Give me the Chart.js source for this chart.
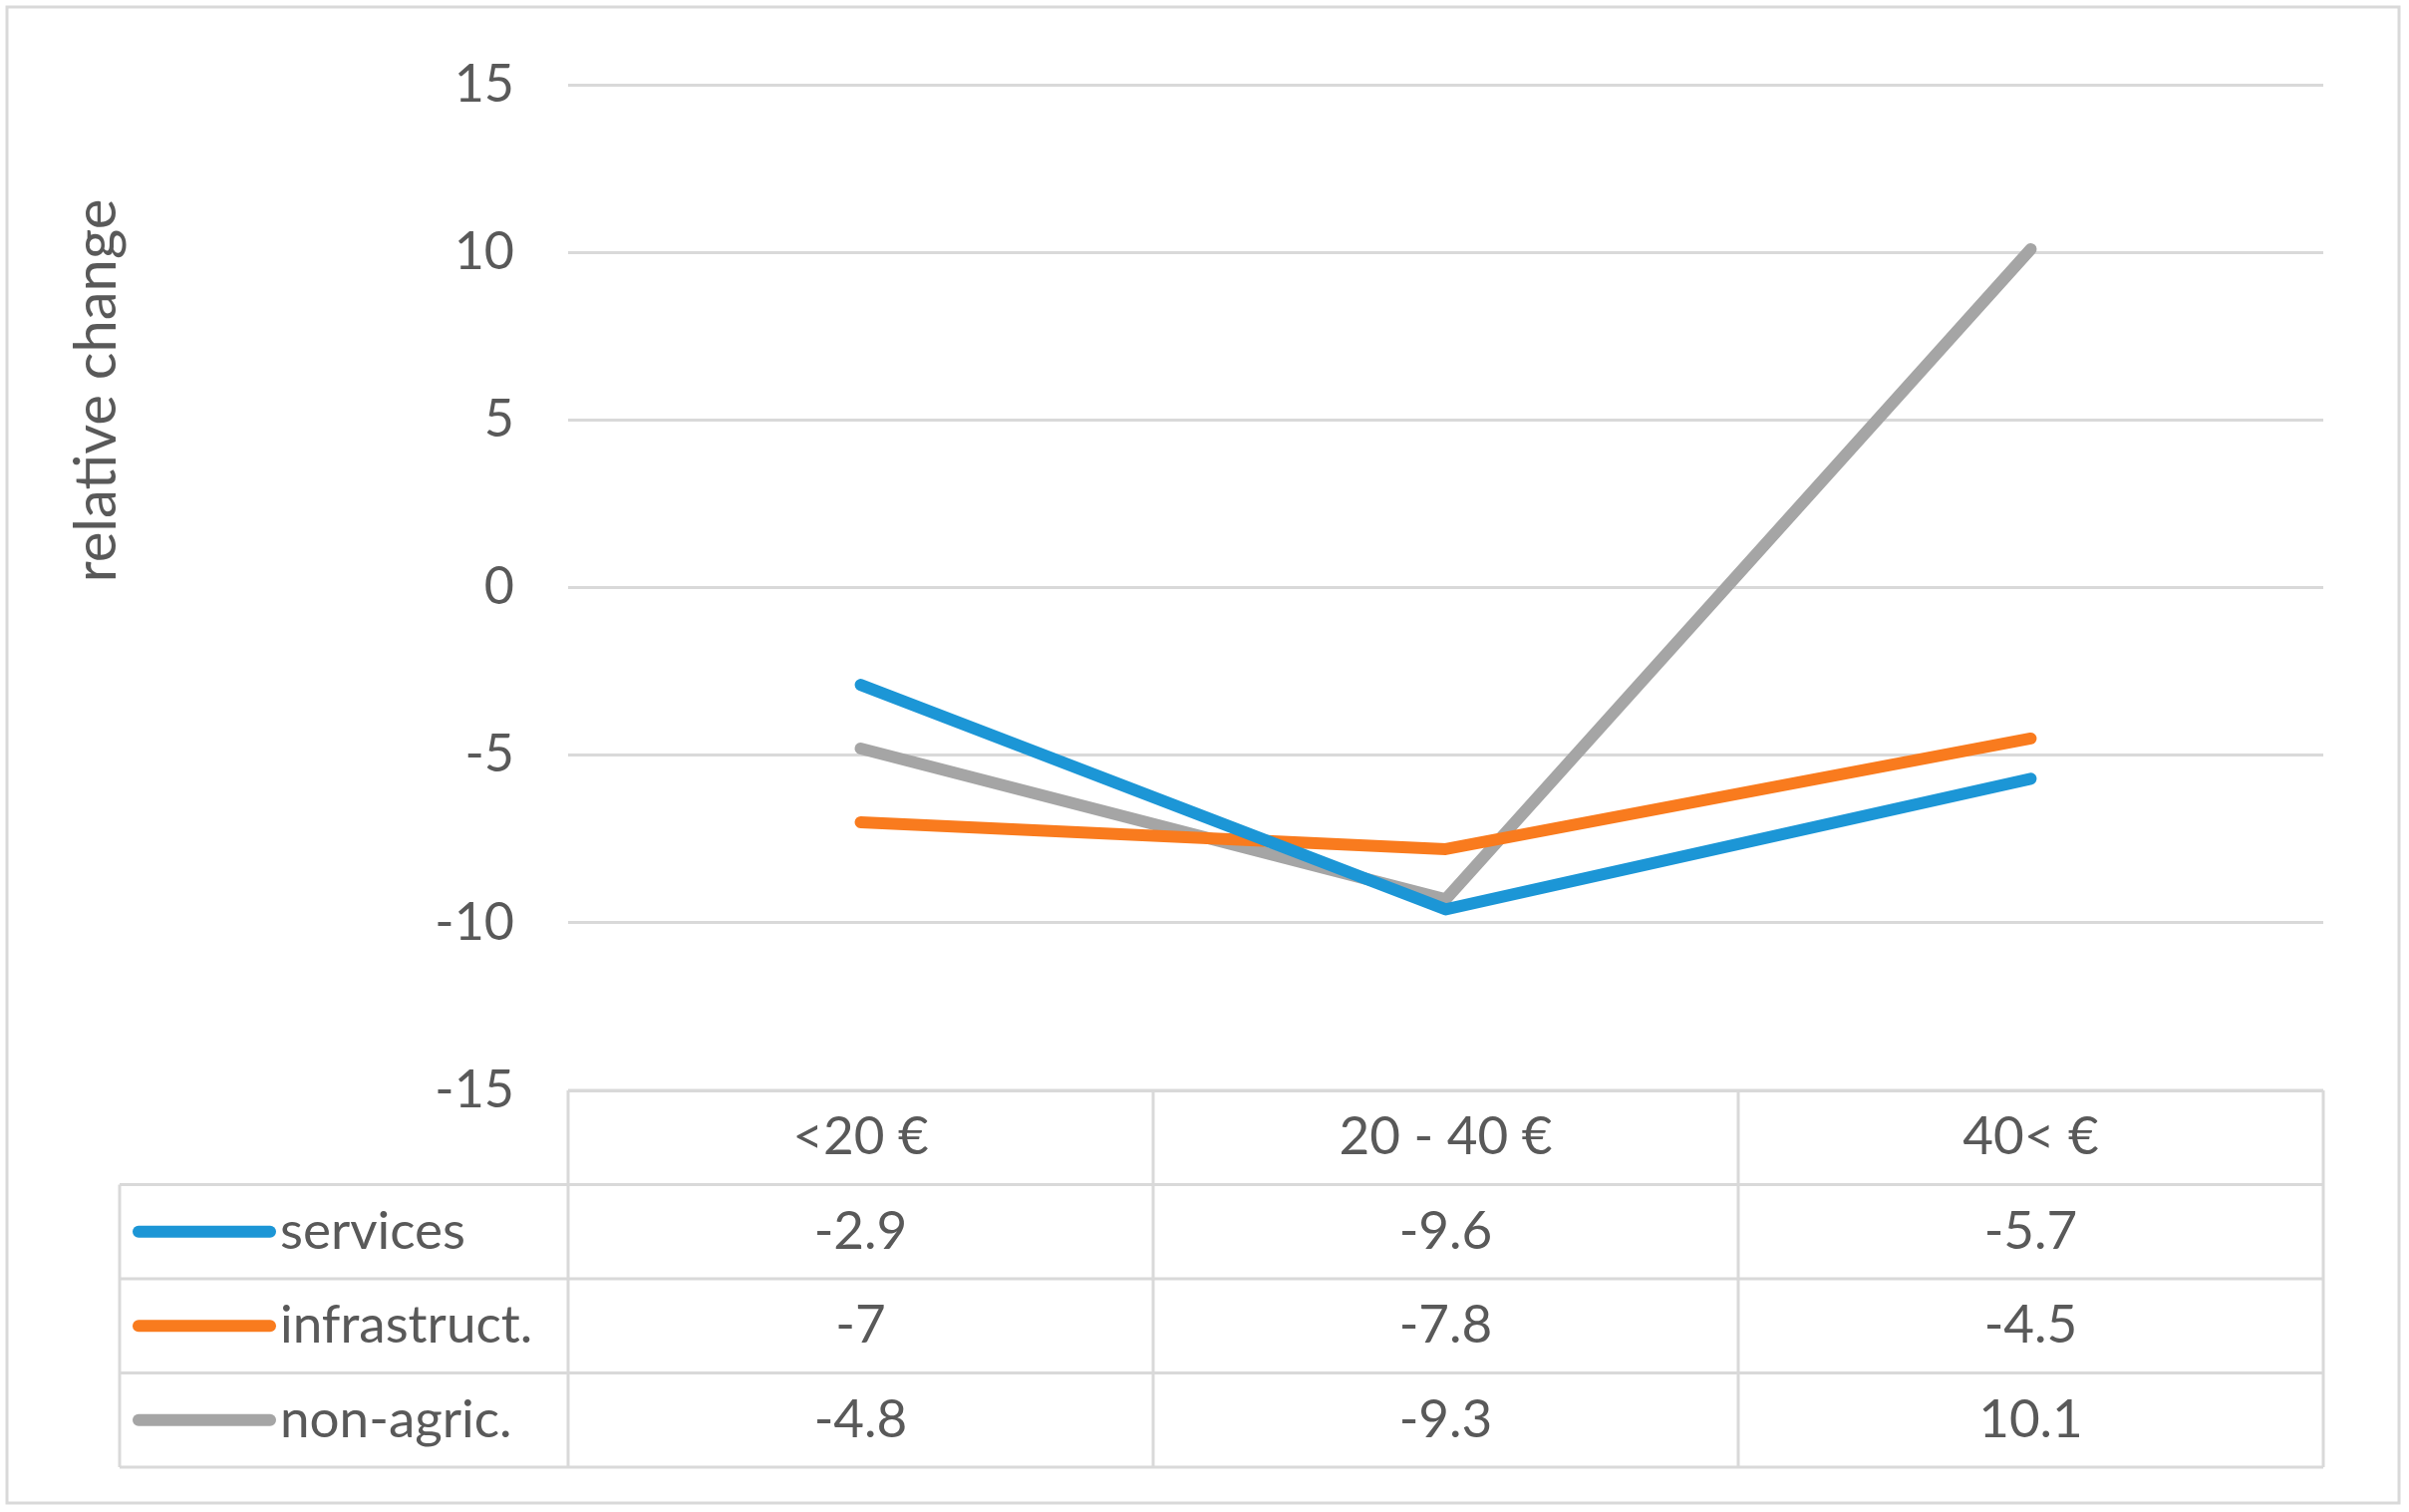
<!DOCTYPE html>
<html>
<head>
<meta charset="utf-8">
<script src="https://cdn.jsdelivr.net/npm/chart.js@4"></script>
<style>
  html, body { margin: 0; padding: 0; background: #fff; }
  canvas { display: block; }
</style>
</head>
<body>
<canvas id="chart" width="2417" height="1517"></canvas>
<script>
const categories = ['<20 €', '20 - 40 €', '40< €'];
const servicesValues = [-2.9, -9.6, -5.7];
const infrastructValues = [-7, -7.8, -4.5];
const nonAgricValues = [-4.8, -9.3, 10.1];
const seriesNames = ['services', 'infrastruct.', 'non-agric.'];
const seriesColors = ['#1c96d6', '#f97b1e', '#a5a5a5'];
const yTicks = [-15, -10, -5, 0, 5, 10, 15];

const FONT = 'Lato, "Open Sans", sans-serif';
const TEXT = '#595959';
const RULE = '#d9d9d9';

// data table under the plot + frame + rotated axis title
const tablePlugin = {
  id: 'dataTable',
  afterDraw(chart) {
    const ctx = chart.ctx;
    const area = chart.chartArea;
    const x = chart.scales.x;
    const allValues = [servicesValues, infrastructValues, nonAgricValues];
    const rowH = 94.5;
    const tableLeft = 120;
    const top = area.bottom;

    ctx.save();
    ctx.strokeStyle = RULE;
    ctx.lineWidth = 3;

    // outer frame
    ctx.strokeRect(7, 7, 2400, 1501);

    // header row
    ctx.beginPath();
    ctx.moveTo(area.left, top);
    ctx.lineTo(area.right, top);
    ctx.moveTo(area.left, top);
    ctx.lineTo(area.left, top + rowH * 4);
    ctx.moveTo(area.right, top);
    ctx.lineTo(area.right, top + rowH * 4);
    for (let i = 1; i < categories.length; i++) {
      const xb = (x.getPixelForValue(i - 1) + x.getPixelForValue(i)) / 2;
      ctx.moveTo(xb, top);
      ctx.lineTo(xb, top + rowH * 4);
    }
    for (let r = 1; r <= 4; r++) {
      ctx.moveTo(tableLeft, top + rowH * r);
      ctx.lineTo(area.right, top + rowH * r);
    }
    ctx.moveTo(tableLeft, top + rowH);
    ctx.lineTo(tableLeft, top + rowH * 4);
    ctx.stroke();

    ctx.fillStyle = TEXT;
    ctx.font = '53px ' + FONT;
    ctx.textBaseline = 'middle';
    ctx.textAlign = 'center';
    categories.forEach((c, i) => {
      ctx.fillText(c, x.getPixelForValue(i), top + rowH / 2);
    });

    allValues.forEach((vals, r) => {
      const cy = top + rowH * (r + 1) + rowH / 2;
      ctx.textAlign = 'center';
      vals.forEach((v, i) => {
        ctx.fillText(String(v), x.getPixelForValue(i), cy);
      });
      // legend key
      ctx.strokeStyle = seriesColors[r];
      ctx.lineWidth = 12;
      ctx.lineCap = 'round';
      ctx.beginPath();
      ctx.moveTo(139, cy);
      ctx.lineTo(271, cy);
      ctx.stroke();
      ctx.textAlign = 'left';
      ctx.fillText(seriesNames[r], 281, cy);
    });

    // y axis title
    ctx.translate(97, 392);
    ctx.rotate(-Math.PI / 2);
    ctx.textAlign = 'center';
    ctx.font = '58px ' + FONT;
    ctx.fillText('relative change', 0, 0);
    ctx.restore();
  }
};

new Chart(document.getElementById('chart'), {
  type: 'line',
  data: {
    labels: categories,
    datasets: [
      { label: seriesNames[0], data: servicesValues, borderColor: seriesColors[0] },
      { label: seriesNames[1], data: infrastructValues, borderColor: seriesColors[1] },
      { label: seriesNames[2], data: nonAgricValues, borderColor: seriesColors[2] },
    ],
  },
  options: {
    responsive: false,
    animation: false,
    devicePixelRatio: 1,
    layout: { padding: { left: 0, top: 76, right: 86, bottom: 423 } },
    elements: {
      line: { borderWidth: 12, borderCapStyle: 'round', borderJoinStyle: 'round', tension: 0 },
      point: { radius: 0 },
    },
    plugins: { legend: { display: false }, tooltip: { enabled: false } },
    scales: {
      x: { type: 'category', offset: true, display: false },
      y: {
        min: -15,
        max: 15,
        afterBuildTicks: (scale) => { scale.ticks = yTicks.map(v => ({ value: v })); },
        afterFit: (scale) => { scale.width = 570; },
        border: { display: false },
        grid: { color: RULE, lineWidth: 3, drawTicks: false },
        ticks: { color: TEXT, padding: 54, font: { family: FONT, size: 52 } },
      },
    },
  },
  plugins: [tablePlugin],
});
</script>
</body>
</html>
